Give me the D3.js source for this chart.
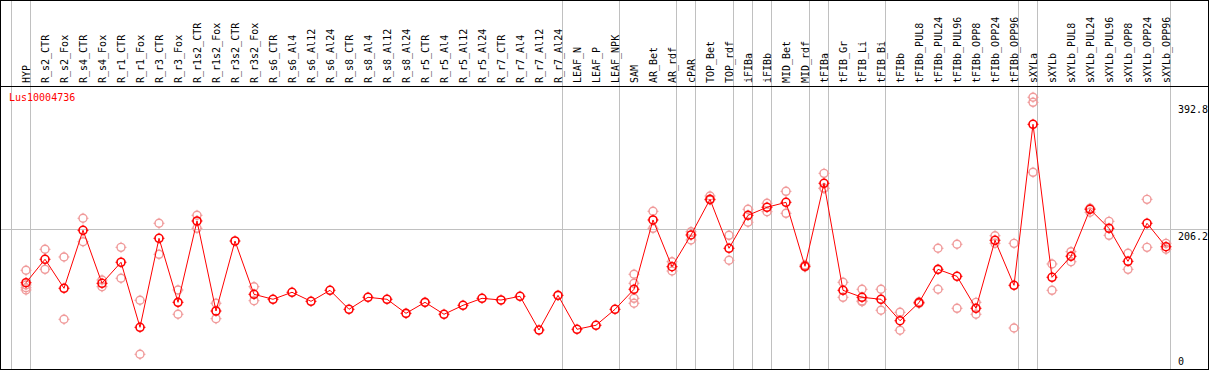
<!DOCTYPE html>
<html>
<head>
<meta charset="utf-8">
<script src="https://cdn.jsdelivr.net/npm/d3@7"></script>
<style>
  body { margin: 0; background: #fff; }
  text { font-family: "DejaVu Sans Mono", monospace; font-size: 10px; }
</style>
</head>
<body>
<div id="chart"></div>
<script>
// samples, in column order
const samples = ["HYP","R_s2_CTR","R_s2_Fox","R_s4_CTR","R_s4_Fox","R_r1_CTR","R_r1_Fox","R_r3_CTR","R_r3_Fox",
  "R_r1s2_CTR","R_r1s2_Fox","R_r3s2_CTR","R_r3s2_Fox","R_s6_CTR","R_s6_Al4","R_s6_Al12","R_s6_Al24",
  "R_s8_CTR","R_s8_Al4","R_s8_Al12","R_s8_Al24","R_r5_CTR","R_r5_Al4","R_r5_Al12","R_r5_Al24",
  "R_r7_CTR","R_r7_Al4","R_r7_Al12","R_r7_Al24","LEAF_N","LEAF_P","LEAF_NPK","SAM","AR_Bet","AR_rdf",
  "cPAR","TOP_Bet","TOP_rdf","iFIBa","iFIBb","MID_Bet","MID_rdf","tFIBa","tFIB_Gr","tFIB_Li","tFIB_Bi",
  "tFIBb","tFIBb_PUL8","tFIBb_PUL24","tFIBb_PUL96","tFIBb_OPP8","tFIBb_OPP24","tFIBb_OPP96",
  "sXYLa","sXYLb","sXYLb_PUL8","sXYLb_PUL24","sXYLb_PUL96","sXYLb_OPP8","sXYLb_OPP24","sXYLb_OPP96"];

// mean expression per sample
const means = [127.1,161.6,118.9,204.3,126.2,157.2,61.4,192.5,98.2,
  218.0,85.4,188.5,110.0,102.7,113.0,99.7,115.9,
  87.9,105.6,102.7,82.0,98.2,80.6,93.8,104.1,
  101.6,107.1,57.4,108.5,58.5,64.4,87.9,117.4,219.5,150.7,
  197.4,249.9,177.8,226.4,238.2,245.5,151.3,273.5,115.9,105.6,102.7,
  71.1,97.7,146.8,136.5,89.4,189.6,123.3,
  360.4,135.1,166.0,235.2,207.2,158.6,214.6,180.1];

// individual replicates (empty = single sample)
const replicates = [
  [145.4,123.7,119.7,116.4],[176.3,146.8],[165.0,73.2],[222.0,187.5],[131.1,121.2],[179.2,133.6],[101.2,21.7],[214.6,168.9],[116.4,80.6],
  [226.4,207.2],[96.8,74.1],[],[121.2,100.6],[],[],[],[],
  [],[],[],[],[],[],[],[],
  [],[],[],[],[],[],[],[139.5,126.2,104.1,96.8],[232.3,207.2],[158.0,144.3],
  [202.2,190.0],[254.8,248.9],[196.9,160.1],[235.2,216.1],[244.1,231.7],[261.7,229.3],[153.2,150.2],[288.2,266.5,265.8],[127.7,105.6],[117.4,100.2,99.2],[117.4,86.5],
  [83.5,57.0],[99.0,96.4],[177.8,117.4],[183.7,89.4],[98.2,80.6],[196.3,185.1],[185.1,60.4],
  [400.2,392.8,289.7],[154.7,115.9],[172.8,158.0],[236.7,230.8],[217.5,196.9],[170.4,146.8],[249.9,179.2],[185.1,176.3]];

// first column of each sample group (last value closes the final group)
const groupStarts = [0,1,29,32,35,36,38,39,40,42,43,46,53,54,61];

const geneName = "Lus10004736";
const axisTicks = [0, 206.2, 392.8];
const yMax = 412.4;

const W = 1209, H = 370;
const headerH = 86;

const svg = d3.select("#chart").append("svg")
  .attr("width", W).attr("height", H)
  .attr("shape-rendering", "crispEdges");

const x = d3.scaleBand().domain(samples).range([11, 1170]);
const px = d => x(d) + 15;
const y = d3.scaleLinear().domain([0, yMax]).range([369, 89]);

// group separators
const colEdge = d3.scaleLinear().domain([0, samples.length]).range([11, 1170]);
svg.selectAll("line.sep").data(groupStarts).join("line")
  .attr("class", "sep")
  .attr("x1", d => Math.round(colEdge(d)) + 0.5).attr("x2", d => Math.round(colEdge(d)) + 0.5)
  .attr("y1", 0).attr("y2", H)
  .attr("stroke", "#c0c0c0");

// middle grid line
svg.append("line")
  .attr("x1", 0).attr("x2", W)
  .attr("y1", Math.round(y(206.2)) + 0.5).attr("y2", Math.round(y(206.2)) + 0.5)
  .attr("stroke", "#c0c0c0");

// frame + header rule
svg.append("rect").attr("x", 0.5).attr("y", 0.5).attr("width", W - 1.5).attr("height", H - 1.5)
  .attr("fill", "none").attr("stroke", "#000");
svg.append("line").attr("x1", 0).attr("x2", W).attr("y1", headerH + 0.5).attr("y2", headerH + 0.5)
  .attr("stroke", "#000");

// sample labels (rotated)
svg.selectAll("text.lab").data(samples).join("text")
  .attr("class", "lab")
  .attr("transform", d => `translate(${px(d) + 3.5},83) rotate(-90)`)
  .attr("fill", "#000")
  .text(d => d);

// right axis
const axis = d3.axisRight(y).tickValues(axisTicks).tickSize(0).tickFormat(d => d);
const ag = svg.append("g").attr("transform", "translate(1178,0)").call(axis);
ag.select(".domain").remove();
ag.selectAll("text")
  .attr("x", 0)
  .attr("dy", d => d === 0 ? "-0.45em" : "1.0em")
  .attr("font-family", "DejaVu Sans Mono").attr("font-size", 10)
  .attr("text-anchor", "start").attr("fill", "#000");

// gene name
svg.append("text").attr("x", 9).attr("y", 101).attr("fill", "#ff0000").text(geneName);

const marker = "M-5.5,0H-3.5M3.5,0H5.5M0,-5.5V-3.5M0,3.5V5.5";

// replicate points
const reps = [];
replicates.forEach((r, i) => r.forEach(v => reps.push({ s: samples[i], v })));
const rg = svg.append("g").attr("shape-rendering", "auto");
rg.selectAll("circle").data(reps).join("circle")
  .attr("cx", d => px(d.s)).attr("cy", d => y(d.v)).attr("r", 4)
  .attr("fill", "none").attr("stroke", "#f09a9a").attr("stroke-width", 1.4);
rg.selectAll("path").data(reps).join("path")
  .attr("transform", d => `translate(${px(d.s)},${y(d.v)})`)
  .attr("d", marker).attr("stroke", "#f09a9a").attr("stroke-width", 1);

// mean line
const line = d3.line().x((d, i) => px(samples[i])).y(d => y(d));
svg.append("path").datum(means)
  .attr("d", line).attr("fill", "none").attr("stroke", "#ff0000").attr("stroke-width", 1)
  .attr("shape-rendering", "auto");

// mean points
const mg = svg.append("g").attr("shape-rendering", "auto");
mg.selectAll("circle").data(means).join("circle")
  .attr("cx", (d, i) => px(samples[i])).attr("cy", d => y(d)).attr("r", 4)
  .attr("fill", "none").attr("stroke", "#ff0000").attr("stroke-width", 1.6);
mg.selectAll("path").data(means).join("path")
  .attr("transform", (d, i) => `translate(${px(samples[i])},${y(d)})`)
  .attr("d", marker).attr("stroke", "#ff0000").attr("stroke-width", 1);
</script>
</body>
</html>
